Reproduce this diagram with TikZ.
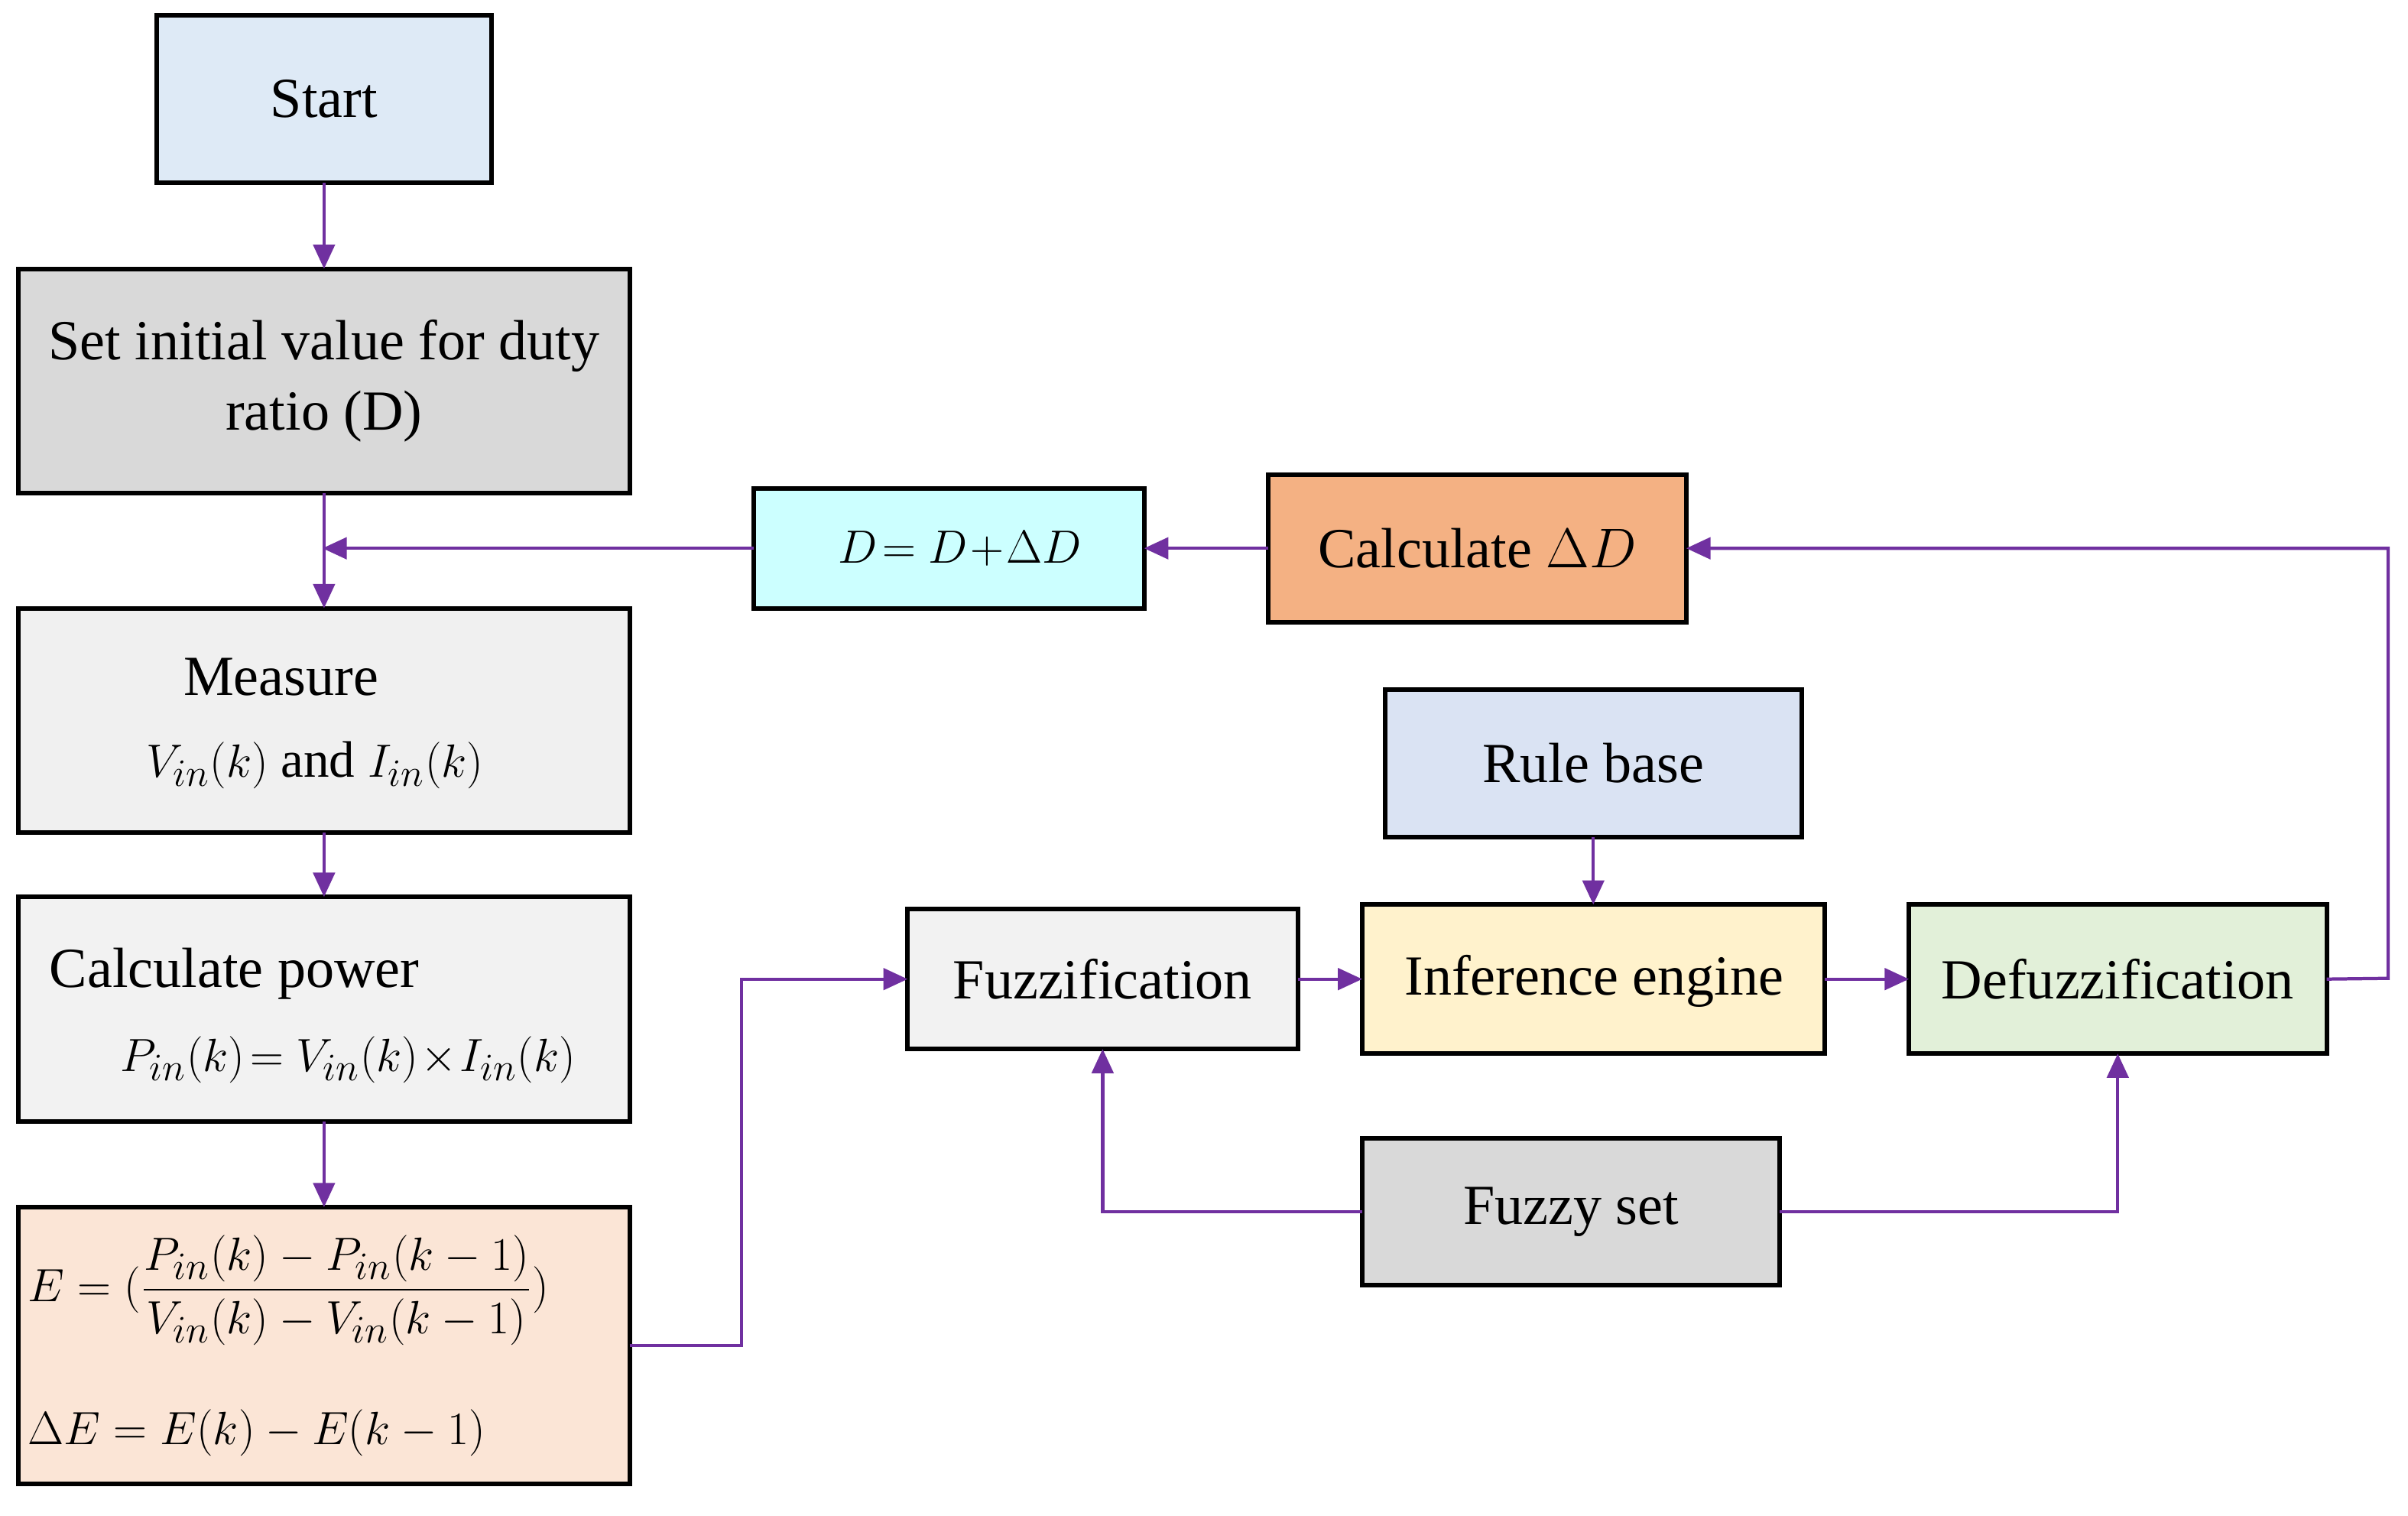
\documentclass[tikz,border=0pt]{standalone}
\usepackage{amsmath}
\usepackage{fontspec}
\setmainfont{Liberation Serif}
\usetikzlibrary{arrows.meta}
\definecolor{pur}{HTML}{7030A0}
\definecolor{cStart}{HTML}{DEEAF6}
\definecolor{cE}{HTML}{FBE5D6}
\definecolor{cUpd}{HTML}{CCFFFF}
\definecolor{cCd}{HTML}{F4B183}
\definecolor{cRule}{HTML}{DAE3F3}
\definecolor{cInf}{HTML}{FFF2CC}
\definecolor{cDf}{HTML}{E2F0D9}
\begin{document}
\begin{tikzpicture}[x=0.02cm,y=-0.02cm,
 box/.style={draw=black,line width=1.7pt,inner sep=0pt},
 lbl/.style={font=\fontsize{21}{26}\selectfont,align=center},
 mth/.style={font=\fontsize{19}{24}\selectfont,align=center},
 con/.style={draw=pur,line width=1.2pt,-{Triangle[length=9pt,width=8pt]}}]
\useasboundingbox (0,0) rectangle (1568,987);
\newcommand\bx[6]{\path[box,fill=#6] (#2,#3) rectangle (#4,#5); \coordinate (#1) at ({(#2+#4)/2},{(#3+#5)/2});
 \coordinate (#1-w) at (#2,{(#3+#5)/2}); \coordinate (#1-e) at (#4,{(#3+#5)/2});
 \coordinate (#1-n) at ({(#2+#4)/2},#3); \coordinate (#1-s) at ({(#2+#4)/2},#5);}
\bx{start}{102}{10}{320}{119}{cStart}
\bx{set}{12}{175}{410}{321}{black!15}
\bx{meas}{12}{396}{410}{542}{black!6}
\bx{pow}{12}{584}{410}{730}{black!5}
\bx{E}{12}{786}{410}{966}{cE}
\bx{upd}{491}{318}{745}{396}{cUpd}
\bx{cd}{826}{309}{1098}{405}{cCd}
\bx{rule}{902}{449}{1173}{545}{cRule}
\bx{fz}{591}{592}{845}{683}{black!5}
\bx{inf}{887}{589}{1188}{686}{cInf}
\bx{df}{1243}{589}{1515}{686}{cDf}
\bx{fs}{887}{741}{1159}{837}{black!15}
\node[lbl] (tstart) at (start) {Start};
\node[lbl] (tset) at (set) {Set initial value for duty\\ratio (D)};
\node[lbl] (tm1) at (183,441) {Measure};
\node[mth] (tm2) at (205,498) {$V_{in}(k)$ and $I_{in}(k)$};
\node[lbl,anchor=west] (tp1) at (26,634) {Calculate power};
\node[mth,anchor=west] (tp2) at (72,690) {$P_{in}(k)\!=V_{in}(k)\!\times\! I_{in}(k)$};
\node[mth,anchor=west,inner sep=0pt] (te1) at (18,840) {$E=(\dfrac{P_{in}(k)-P_{in}(k-1)}{V_{in}(k)-V_{in}(k-1)})$};
\node[mth,anchor=west,inner sep=0pt] (te2) at (18,933) {$\Delta E=E(k)-E(k-1)$};
\node[mth] (tupd) at (625,357) {$D\!=D\!+\!\Delta D$};
\node[lbl] (tcd) at (cd) {Calculate $\Delta D$};
\node[lbl] (trule) at (rule) {Rule base};
\node[lbl] (tfz) at (fz) {Fuzzification};
\node[lbl] (tinf) at (1038,639) {Inference engine};
\node[lbl] (tdf) at (df) {Defuzzification};
\node[lbl] (tfs) at (fs) {Fuzzy set};
\coordinate (j) at (210,357);
\coordinate (b1) at (483,876);
\draw[con] (start-s) -- (set-n);
\draw[con] (set-s) -- (meas-n);
\draw[con] (meas-s) -- (pow-n);
\draw[con] (pow-s) -- (E-n);
\draw[con] (upd-w) -- (j);
\draw[con] (cd-w) -- (upd-e);
\draw[con] (E-e) -- (b1) |- (fz-w);
\draw[con] (fz-e) -- (inf-w |- fz-e);
\draw[con] (inf-e |- fz-e) -- (df-w |- fz-e);
\draw[con] (rule-s) -- (rule-s |- inf-n);
\draw[con] (fs-w) -| (fz-s);
\draw[con] (fs-e) -| (df-s);
\draw[con] (df-e) -- (1555,637) |- (cd-e);
\end{tikzpicture}
\end{document}
